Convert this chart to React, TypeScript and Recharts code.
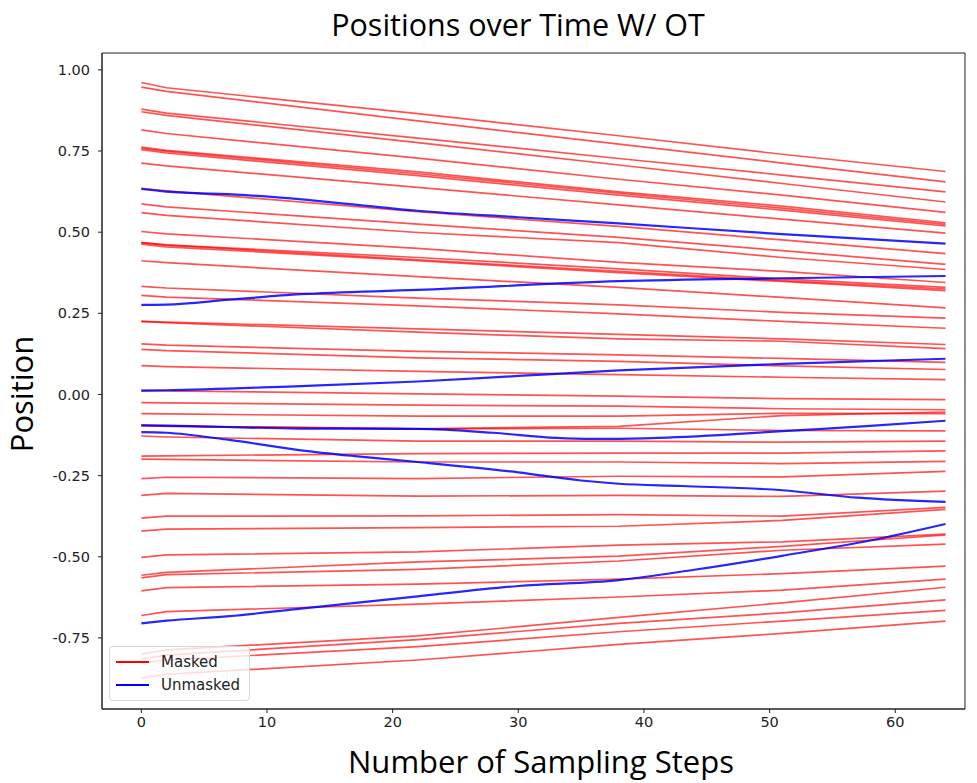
import { LineChart, Line, XAxis, YAxis, ReferenceArea } from "recharts";

const MASKED_STEPS = [0, 2, 22, 38, 51, 64];

// one row per masked path: position at each of MASKED_STEPS
const MASKED: number[][] = [
  [0.961, 0.945, 0.865, 0.797, 0.74, 0.687],
  [0.947, 0.934, 0.843, 0.771, 0.713, 0.655],
  [0.879, 0.867, 0.79, 0.727, 0.676, 0.624],
  [0.871, 0.86, 0.776, 0.707, 0.65, 0.593],
  [0.815, 0.804, 0.728, 0.663, 0.614, 0.561],
  [0.762, 0.752, 0.686, 0.624, 0.58, 0.529],
  [0.758, 0.749, 0.68, 0.62, 0.574, 0.524],
  [0.754, 0.744, 0.674, 0.614, 0.568, 0.519],
  [0.713, 0.704, 0.638, 0.584, 0.54, 0.497],
  [0.635, 0.627, 0.563, 0.518, 0.476, 0.434],
  [0.587, 0.578, 0.525, 0.484, 0.443, 0.401],
  [0.56, 0.552, 0.499, 0.468, 0.422, 0.385],
  [0.502, 0.495, 0.45, 0.407, 0.379, 0.345],
  [0.468, 0.461, 0.422, 0.387, 0.356, 0.33],
  [0.468, 0.46, 0.415, 0.379, 0.351, 0.325],
  [0.463, 0.455, 0.412, 0.375, 0.348, 0.32],
  [0.412, 0.406, 0.363, 0.33, 0.299, 0.267],
  [0.333, 0.328, 0.297, 0.276, 0.253, 0.235],
  [0.305, 0.3, 0.273, 0.248, 0.225, 0.204],
  [0.225, 0.223, 0.202, 0.185, 0.171, 0.154],
  [0.225, 0.221, 0.192, 0.171, 0.164, 0.141],
  [0.156, 0.152, 0.133, 0.122, 0.111, 0.099],
  [0.139, 0.135, 0.113, 0.102, 0.088, 0.077],
  [0.089, 0.086, 0.071, 0.061, 0.053, 0.046],
  [0.012, 0.011, 0.002, -0.005, -0.013, -0.016],
  [-0.025, -0.026, -0.033, -0.036, -0.044, -0.047],
  [-0.059, -0.06, -0.067, -0.067, -0.058, -0.059],
  [-0.095, -0.097, -0.106, -0.098, -0.065, -0.054],
  [-0.095, -0.098, -0.106, -0.104, -0.111, -0.112],
  [-0.128, -0.131, -0.144, -0.144, -0.147, -0.144],
  [-0.19, -0.189, -0.182, -0.181, -0.181, -0.174],
  [-0.199, -0.2, -0.208, -0.208, -0.213, -0.206],
  [-0.259, -0.255, -0.259, -0.252, -0.254, -0.237],
  [-0.311, -0.305, -0.313, -0.311, -0.314, -0.298],
  [-0.381, -0.375, -0.374, -0.37, -0.375, -0.348],
  [-0.421, -0.415, -0.41, -0.406, -0.388, -0.354],
  [-0.502, -0.494, -0.485, -0.464, -0.454, -0.43],
  [-0.557, -0.548, -0.516, -0.498, -0.468, -0.433],
  [-0.565, -0.555, -0.539, -0.513, -0.48, -0.461],
  [-0.605, -0.595, -0.584, -0.569, -0.552, -0.529],
  [-0.681, -0.669, -0.646, -0.624, -0.603, -0.569],
  [-0.8, -0.787, -0.744, -0.687, -0.642, -0.594],
  [-0.815, -0.803, -0.755, -0.705, -0.673, -0.633],
  [-0.827, -0.818, -0.777, -0.731, -0.698, -0.665],
  [-0.874, -0.862, -0.818, -0.77, -0.736, -0.698],
];

// unmasked (blue) paths: [step, position] pairs
const UNMASKED: [number, number][][] = [
  [[0, 0.633], [2, 0.625], [8, 0.615], [13, 0.6], [17, 0.585], [22, 0.566], [30, 0.546], [38, 0.527], [51, 0.494], [64, 0.465]],
  [[0, 0.276], [2, 0.277], [7, 0.292], [12.7, 0.309], [22, 0.322], [38, 0.349], [51, 0.358], [64, 0.365]],
  [[0, 0.012], [2, 0.013], [12.7, 0.026], [22, 0.04], [30, 0.057], [38, 0.074], [51, 0.094], [64, 0.11]],
  [[0, -0.095], [2, -0.096], [12.7, -0.105], [22, -0.106], [28, -0.118], [33, -0.134], [36, -0.137], [40, -0.135], [46, -0.125], [51, -0.113], [58, -0.097], [64, -0.081]],
  [[0, -0.116], [2, -0.118], [7, -0.14], [12.7, -0.172], [17, -0.19], [22, -0.208], [30, -0.24], [35, -0.265], [38, -0.275], [43, -0.282], [51, -0.295], [57, -0.318], [64, -0.331]],
  [[0, -0.705], [2, -0.697], [7, -0.683], [12.7, -0.66], [22, -0.622], [30, -0.59], [38, -0.572], [44, -0.54], [51, -0.497], [58, -0.45], [64, -0.399]],
];

const X_TICKS = [0, 10, 20, 30, 40, 50, 60];
const Y_TICKS = [-0.75, -0.5, -0.25, 0, 0.25, 0.5, 0.75, 1.0];

const X_DOMAIN: [number, number] = [-3.13, 65.55];
const Y_DOMAIN: [number, number] = [-0.969, 1.052];

const maskedSeries = MASKED.map((vals) => MASKED_STEPS.map((step, i) => ({ step, pos: vals[i] })));
const unmaskedSeries = UNMASKED.map((pts) => pts.map(([step, pos]) => ({ step, pos })));

const TICK_STYLE = { fontFamily: "DejaVu Sans", fontSize: 14.5, fill: "#222" };
const LABEL_FONT = "'Open Sans', 'Noto Sans', sans-serif";

function LegendBox() {
  const rows = [
    { label: "Masked", color: "#ff0000" },
    { label: "Unmasked", color: "#0000ff" },
  ];
  return (
    <div
      style={{
        position: "absolute",
        left: 109,
        top: 646,
        width: 141,
        height: 55,
        boxSizing: "border-box",
        background: "rgba(255,255,255,0.8)",
        border: "1px solid #d6d6d6",
        borderRadius: 4,
        fontFamily: "DejaVu Sans",
        fontSize: 15,
        color: "#222",
      }}
    >
      {rows.map((r, i) => (
        <div key={r.label} style={{ position: "absolute", left: 6, top: 4 + i * 23, height: 22, display: "flex", alignItems: "center" }}>
          <div style={{ width: 33, height: 2, background: r.color }} />
          <span style={{ marginLeft: 12 }}>{r.label}</span>
        </div>
      ))}
    </div>
  );
}

export default function App() {
  return (
    <div style={{ position: "absolute", left: 0, top: 0, width: 977, height: 783, background: "#fff" }}>
      <LineChart width={977} height={783} margin={{ top: 53, right: 12, bottom: 0, left: 0 }}>
        <XAxis
          dataKey="step"
          type="number"
          domain={X_DOMAIN}
          allowDataOverflow
          ticks={X_TICKS}
          height={74}
          tickSize={4}
          tickMargin={4}
          tick={TICK_STYLE}
          axisLine={{ stroke: "#222" }}
          tickLine={{ stroke: "#222" }}
        />
        <YAxis
          dataKey="pos"
          type="number"
          domain={Y_DOMAIN}
          allowDataOverflow
          ticks={Y_TICKS}
          width={102}
          tickSize={4}
          tickMargin={8}
          tick={TICK_STYLE}
          tickFormatter={(v: number) => v.toFixed(2)}
          axisLine={{ stroke: "#222" }}
          tickLine={{ stroke: "#222" }}
        />
        <ReferenceArea x1={X_DOMAIN[0]} x2={X_DOMAIN[1]} y1={Y_DOMAIN[0]} y2={Y_DOMAIN[1]} fill="none" stroke="#222" strokeWidth={1} />
        {maskedSeries.map((d, i) => (
          <Line
            key={`m${i}`}
            data={d}
            dataKey="pos"
            type="linear"
            stroke="#ff0000"
            strokeOpacity={0.68}
            strokeWidth={1.7}
            dot={false}
            activeDot={false}
            isAnimationActive={false}
          />
        ))}
        {unmaskedSeries.map((d, i) => (
          <Line
            key={`u${i}`}
            data={d}
            dataKey="pos"
            type="monotone"
            stroke="#0000ff"
            strokeOpacity={0.85}
            strokeWidth={2.2}
            dot={false}
            activeDot={false}
            isAnimationActive={false}
          />
        ))}
      </LineChart>
      <LegendBox />
      <svg width={977} height={783} style={{ position: "absolute", left: 0, top: 0, pointerEvents: "none" }}>
        <text x={518} y={36} textAnchor="middle" fontFamily={LABEL_FONT} fontSize={30.5} fill="#000">
          Positions over Time W/ OT
        </text>
        <text x={541} y={773} textAnchor="middle" fontFamily={LABEL_FONT} fontSize={31} fill="#000">
          Number of Sampling Steps
        </text>
        <text x={33} y={394} transform="rotate(-90 33 394)" textAnchor="middle" fontFamily={LABEL_FONT} fontSize={31} fill="#000">
          Position
        </text>
      </svg>
    </div>
  );
}
